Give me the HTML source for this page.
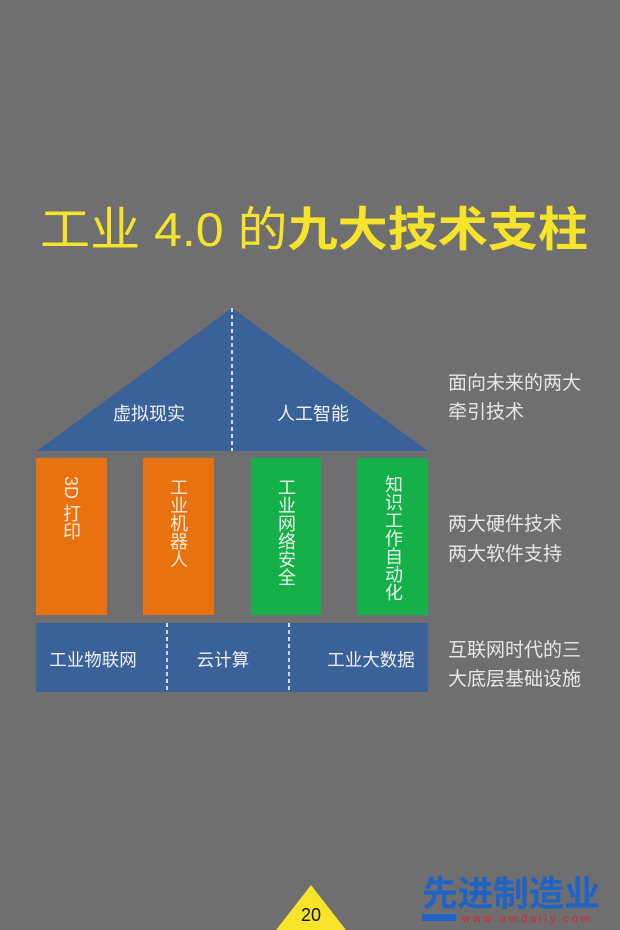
<!DOCTYPE html>
<html><head><meta charset="utf-8"><style>
html,body{margin:0;padding:0;background:#6f6e70;}
body{width:620px;height:930px;overflow:hidden;position:relative;font-family:"Liberation Sans","Noto Sans CJK SC",sans-serif;}
.v{position:absolute;writing-mode:vertical-rl;font-size:18px;line-height:18px;letter-spacing:0px;}
</style></head><body>
<svg width="620" height="930" viewBox="0 0 620 930" style="position:absolute;left:0;top:0" font-family="Liberation Sans, Noto Sans CJK SC, sans-serif">
<rect width="620" height="930" fill="#6f6e70"/>
<text x="40" y="246" font-size="47" fill="#f5e42a" textLength="548" lengthAdjust="spacingAndGlyphs"><tspan>工业 4.0 的</tspan><tspan font-weight="bold">九大技术支柱</tspan></text>
<polygon points="37,451 232,308 428,451" fill="#3a6198"/>
<line x1="232" y1="308" x2="232" y2="451" stroke="#fff" stroke-width="1.5" stroke-dasharray="4,3"/>
<text x="149" y="420" font-size="18" fill="#eef0f6" text-anchor="middle">虚拟现实</text>
<text x="313" y="420" font-size="18" fill="#eef0f6" text-anchor="middle">人工智能</text>
<rect x="36" y="458" width="71" height="157" fill="#e8720f"/>
<rect x="143" y="458" width="71" height="157" fill="#e8720f"/>
<rect x="251" y="458" width="70" height="157" fill="#16b04b"/>
<rect x="357" y="458" width="71" height="157" fill="#16b04b"/>
<rect x="36" y="623" width="392" height="69" fill="#3a6198"/>
<line x1="167" y1="623" x2="167" y2="692" stroke="#fff" stroke-width="1.5" stroke-dasharray="4,3"/>
<line x1="289" y1="623" x2="289" y2="692" stroke="#fff" stroke-width="1.5" stroke-dasharray="4,3"/>
<text x="93" y="666" font-size="17.5" fill="#eef0f6" text-anchor="middle">工业物联网</text>
<text x="223" y="666" font-size="17.5" fill="#eef0f6" text-anchor="middle">云计算</text>
<text x="371" y="666" font-size="17.5" fill="#eef0f6" text-anchor="middle">工业大数据</text>
<g font-size="19" fill="#e6e6e8">
<text x="448" y="389">面向未来的两大</text>
<text x="448" y="418">牵引技术</text>
<text x="448" y="530">两大硬件技术</text>
<text x="448" y="560">两大软件支持</text>
<text x="448" y="656">互联网时代的三</text>
<text x="448" y="685">大底层基础设施</text>
</g>
<polygon points="311,885 276,930 346,930" fill="#f5e42a"/>
<text x="311" y="921" font-size="18" fill="#111" text-anchor="middle">20</text>
<text x="422" y="906" font-size="35" font-weight="bold" fill="#1f63c4" textLength="178" lengthAdjust="spacingAndGlyphs">先进制造业</text>
<rect x="422" y="914" width="34" height="7" fill="#1f63c4"/>
<text x="462" y="922" font-size="11" fill="#d8262a" textLength="128" lengthAdjust="spacing">www.amdaily.com</text>
</svg>
<div class="v" style="left:62px;top:476px;color:#fbe9d6;">3D 打印</div>
<div class="v" style="left:169px;top:478px;color:#fbe9d6;">工业机器人</div>
<div class="v" style="left:277px;top:478px;color:#e8f6ea;">工业网络安全</div>
<div class="v" style="left:384px;top:475px;color:#e8f6ea;">知识工作自动化</div>
</body></html>
